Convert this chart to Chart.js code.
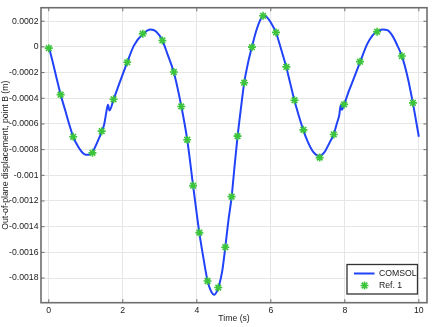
<!DOCTYPE html>
<html>
<head>
<meta charset="utf-8">
<script src="https://cdn.jsdelivr.net/npm/chart.js@4/dist/chart.umd.min.js"></script>
<style>
  html, body { margin: 0; padding: 0; background: #fff; }
  #wrap { width: 434px; height: 327px; }
</style>
</head>
<body>
<div id="wrap"><canvas id="chart"></canvas></div>
<script>
// ===== Data =====
const comsolT = [0, 0.1, 0.2, 0.32, 0.45, 0.55, 0.66, 0.8, 0.9, 1.0, 1.1, 1.18, 1.3, 1.43, 1.5, 1.56, 1.6, 1.64,
  1.75, 1.9, 2.12, 2.3, 2.54, 2.75, 2.9, 3.07, 3.2, 3.38, 3.58, 3.74, 3.9, 4.07, 4.2, 4.29, 4.38, 4.47,
  4.55, 4.6, 4.69, 4.77, 4.85, 4.94, 5.02, 5.1, 5.2, 5.28, 5.38, 5.49, 5.6, 5.7, 5.8, 5.9, 6.0, 6.14,
  6.28, 6.42, 6.53, 6.64, 6.76, 6.88, 7.0, 7.15, 7.31, 7.45, 7.58, 7.7, 7.78, 7.85, 7.89, 7.92, 7.98,
  8.1, 8.25, 8.41, 8.6, 8.75, 8.87, 9.02, 9.15, 9.3, 9.42, 9.54, 9.7, 9.84, 10];
const comsolY = [0, -0.00011, -0.00023, -0.00037, -0.0005, -0.0006, -0.0007, -0.00078, -0.00082, -0.00084,
  -0.00084, -0.00082, -0.00075, -0.00066, -0.0006, -0.0005, -0.00045, -0.000495,
  -0.00041, -0.00029, -0.00012, 0.00001, 0.0001, 0.000136, 0.00012, 0.00005, -0.00005, -0.0002, -0.00046,
  -0.00072, -0.00108, -0.00145, -0.00168, -0.00182, -0.0019, -0.00193,
  -0.0019, -0.00186, -0.00174, -0.00156, -0.00136, -0.00117, -0.00093, -0.0007, -0.00046, -0.00028,
  -0.00013, 0, 0.00012, 0.0002, 0.00025, 0.00023, 0.00019, 0.00011,
  -0.00002, -0.00016, -0.00029, -0.00042, -0.00054, -0.00065, -0.00074, -0.00082, -0.00085, -0.00082,
  -0.00075, -0.00068, -0.0006, -0.00053, -0.00045, -0.00049, -0.00045,
  -0.00035, -0.00024, -0.00012, 0.00002, 0.00009, 0.00012, 0.000136, 0.00013, 0.00008, 0.00001,
  -0.00007, -0.00024, -0.00044, -0.0007];

const refT = [0, 0.32, 0.66, 1.18, 1.43, 1.75, 2.12, 2.54, 3.07, 3.38, 3.58, 3.74, 3.9, 4.07, 4.29, 4.58,
  4.77, 4.94, 5.1, 5.28, 5.49, 5.79, 6.14, 6.42, 6.64, 6.88, 7.32, 7.7, 7.98, 8.41, 8.87, 9.54, 9.84];
const refY = [-0.00001, -0.000372, -0.0007, -0.000825, -0.000656, -0.000408, -0.00012, 0.000103, 0.00005,
  -0.000195, -0.000464, -0.000723, -0.00108, -0.001446, -0.001823, -0.001874,
  -0.00156, -0.001166, -0.000695, -0.000279, -0.000002, 0.000242, 0.000113, -0.000156, -0.000415,
  -0.000646, -0.000862, -0.000682, -0.000448, -0.000115, 0.000118, -0.0000715, -0.000436];

const xTicks = [0, 2, 4, 6, 8, 10];
const yTicks = [0.0002, 0, -0.0002, -0.0004, -0.0006, -0.0008, -0.001, -0.0012, -0.0014, -0.0016, -0.0018];

const FONT = { family: "'Liberation Sans', Arial, sans-serif", size: 8.7 };
const TEXT = "#1a1a1a";
const FRAME = "#6e6e6e";

// draws an 8-armed asterisk like the Ref. 1 markers
function asterisk(ctx, x, y, r) {
  ctx.beginPath();
  for (let k = 0; k < 4; k++) {
    const ang = (k * Math.PI) / 4;
    ctx.moveTo(x - r * Math.cos(ang), y - r * Math.sin(ang));
    ctx.lineTo(x + r * Math.cos(ang), y + r * Math.sin(ang));
  }
  ctx.stroke();
}

// ===== Frame, inward ticks, legend =====
const framePlugin = {
  id: "frame",
  afterDraw(chart) {
    const { ctx, chartArea: a, scales } = chart;
    ctx.save();
    ctx.strokeStyle = FRAME;
    ctx.lineWidth = 1;
    const tl = 3.5;
    ctx.beginPath();
    xTicks.forEach((v) => {
      const px = scales.x.getPixelForValue(v);
      ctx.moveTo(px, a.bottom); ctx.lineTo(px, a.bottom - tl);
      ctx.moveTo(px, a.top); ctx.lineTo(px, a.top + tl);
    });
    yTicks.forEach((v) => {
      const py = scales.y.getPixelForValue(v);
      ctx.moveTo(a.left, py); ctx.lineTo(a.left + tl, py);
      ctx.moveTo(a.right, py); ctx.lineTo(a.right - tl, py);
    });
    ctx.stroke();
    ctx.lineWidth = 1.6;
    ctx.strokeRect(a.left, a.top, a.right - a.left, a.bottom - a.top);

    // legend box
    const lx = 347, ly = 264.5, lw = 70.5, lh = 29.5;
    ctx.fillStyle = "#fff";
    ctx.fillRect(lx, ly, lw, lh);
    ctx.strokeStyle = "#333";
    ctx.lineWidth = 1.3;
    ctx.strokeRect(lx, ly, lw, lh);
    const ds = chart.data.datasets;
    ctx.font = `${FONT.size}px ${FONT.family}`;
    ctx.textBaseline = "middle";
    ctx.fillStyle = TEXT;
    // COMSOL row
    ctx.strokeStyle = ds[0].borderColor;
    ctx.lineWidth = 2;
    ctx.beginPath(); ctx.moveTo(354, 273.5); ctx.lineTo(374.5, 273.5); ctx.stroke();
    ctx.fillText(ds[0].label, 379, 274);
    // Ref row
    ctx.strokeStyle = ds[1].borderColor;
    ctx.lineWidth = ds[1].borderWidth;
    asterisk(ctx, 364.5, 285.5, ds[1].pointRadius);
    ctx.fillText(ds[1].label, 379, 286);
    ctx.restore();
  },
};

// ===== Chart =====
new Chart(document.getElementById("chart"), {
  type: "line",
  data: {
    datasets: [
      {
        label: "COMSOL",
        data: comsolT.map((t, i) => ({ x: t, y: comsolY[i] })),
        borderColor: "#2042f8",
        borderWidth: 2,
        pointRadius: 0,
        cubicInterpolationMode: "monotone",
        fill: false,
        order: 1,
      },
      {
        label: "Ref. 1",
        data: refT.map((t, i) => ({ x: t, y: refY[i] })),
        showLine: false,
        pointStyle: "star",
        pointRadius: 4,
        borderWidth: 1.6,
        borderColor: "#3cc43c",
        backgroundColor: "#3cc43c",
        order: 0,
      },
    ],
  },
  options: {
    responsive: true,
    maintainAspectRatio: false,
    animation: false,
    events: [],
    layout: { padding: { top: 4, right: 7, left: 0, bottom: 0 } },
    plugins: { legend: { display: false }, tooltip: { enabled: false } },
    scales: {
      x: {
        type: "linear",
        min: -0.21,
        max: 10.22,
        afterBuildTicks: (s) => { s.ticks = xTicks.map((v) => ({ value: v })); },
        afterFit: (s) => { s.height = 24.3; },
        grid: { color: "#e6e6e6", drawTicks: false },
        border: { display: false },
        ticks: { color: TEXT, font: FONT, padding: 3, maxRotation: 0 },
        title: { display: true, text: "Time (s)", color: TEXT, font: FONT, padding: { top: 0, bottom: 3 } },
      },
      y: {
        type: "linear",
        min: -0.001992,
        max: 0.000305,
        afterBuildTicks: (s) => { s.ticks = yTicks.map((v) => ({ value: v })); },
        afterFit: (s) => { s.width = 41; },
        grid: { color: "#e6e6e6", drawTicks: false },
        border: { display: false },
        ticks: { color: TEXT, font: FONT, padding: 2.5, callback: (v) => String(Number(v.toFixed(5))) },
        title: {
          display: true,
          text: "Out-of-plane displacement, point B (m)",
          color: TEXT,
          font: FONT,
          padding: { top: 0, bottom: 0 },
        },
      },
    },
  },
  plugins: [framePlugin],
});
</script>
</body>
</html>
